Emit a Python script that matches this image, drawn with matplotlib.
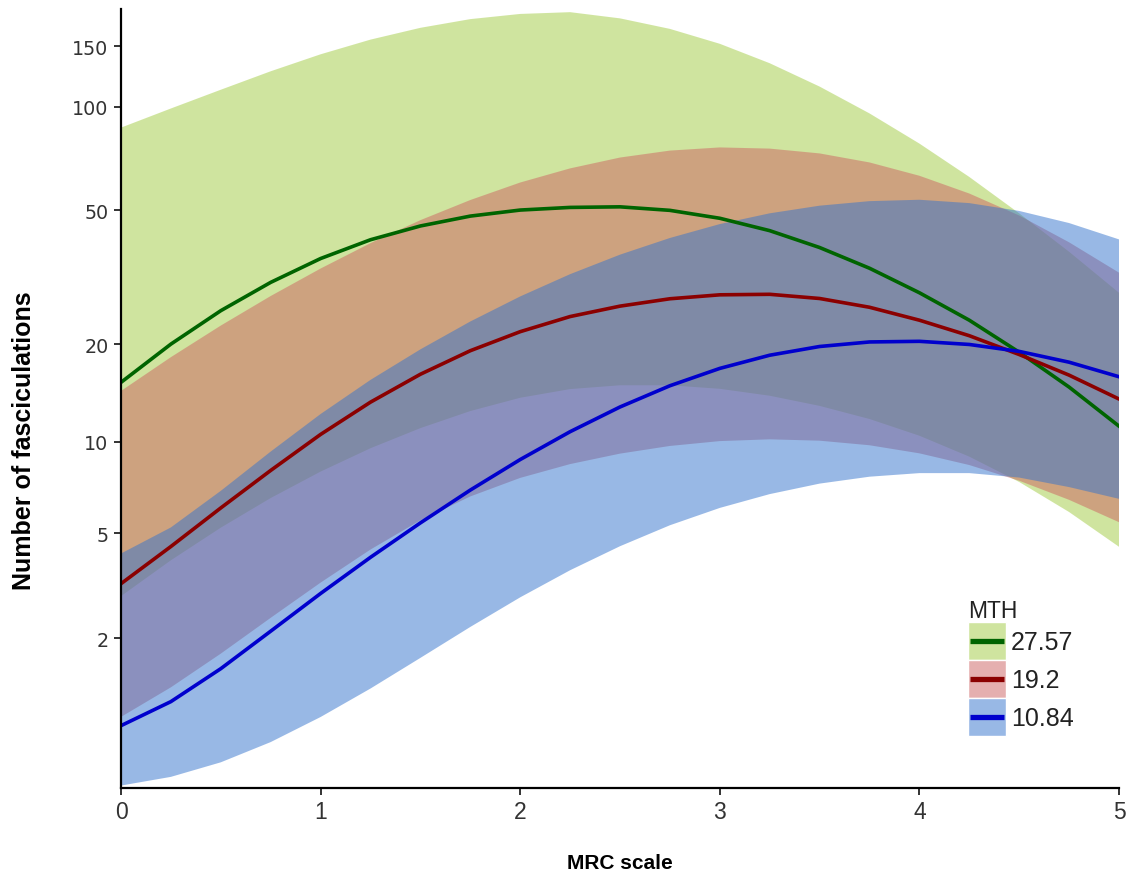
import numpy as np
import matplotlib
matplotlib.use("Agg")
import matplotlib.pyplot as plt
from matplotlib import font_manager
from matplotlib.colors import to_rgba
from matplotlib.legend_handler import HandlerBase
from matplotlib.lines import Line2D
from matplotlib.patches import Rectangle

# MRC scale grid
mrc = [0.0, 0.25, 0.5, 0.75, 1.0, 1.25, 1.5, 1.75, 2.0, 2.25, 2.5,
       2.75, 3.0, 3.25, 3.5, 3.75, 4.0, 4.25, 4.5, 4.75, 5.0]

# MTH = 27.57
fit_high = [15.3, 20.0, 25.2, 30.6, 36.0, 40.9, 44.9, 48.0, 50.0, 50.9, 51.1,
            49.9, 47.3, 43.5, 38.8, 33.7, 28.5, 23.6, 18.9, 14.8, 11.2]
upper_high = [87.0, 98.9, 112.1, 126.8, 142.0, 156.6, 169.4, 179.5, 185.8, 188.0, 180.4,
              168.2, 152.3, 133.8, 114.5, 95.7, 78.2, 62.5, 48.9, 37.7, 28.5]
lower_high = [2.96, 4.02, 5.23, 6.58, 8.03, 9.54, 11.04, 12.48, 13.72, 14.59, 14.99,
              14.99, 14.62, 13.92, 12.95, 11.79, 10.45, 8.97, 7.43, 5.91, 4.49]

# MTH = 19.2
fit_mid = [3.3, 4.5, 6.1, 8.1, 10.55, 13.3, 16.2, 19.1, 21.8, 24.2, 26.0,
           27.35, 28.1, 28.2, 27.4, 25.8, 23.6, 21.2, 18.6, 16.1, 13.6]
upper_mid = [14.4, 18.26, 22.74, 27.87, 33.63, 39.97, 46.7, 53.5, 60.2, 66.2, 71.2,
             74.6, 76.2, 75.6, 73.2, 68.9, 63.0, 55.9, 48.2, 40.2, 32.7]
lower_mid = [0.78, 1.165, 1.706, 2.43, 3.33, 4.39, 5.54, 6.66, 7.66, 8.49, 9.17,
             9.70, 10.05, 10.18, 10.08, 9.75, 9.19, 8.43, 7.50, 6.49, 5.46]

# MTH = 10.84
fit_low = [0.68, 0.97, 1.45, 2.14, 3.03, 4.12, 5.43, 6.99, 8.78, 10.76, 12.85,
           14.94, 16.88, 18.51, 19.67, 20.30, 20.39, 19.95, 19.01, 17.63, 15.92]
upper_low = [4.25, 5.24, 6.95, 9.31, 12.22, 15.57, 19.28, 23.39, 27.79, 32.36, 36.96,
             41.39, 45.48, 48.91, 51.5, 53.1, 53.6, 52.4, 49.7, 45.8, 41.0]
lower_low = [0.13, 0.197, 0.318, 0.507, 0.779, 1.148, 1.631, 2.229, 2.928, 3.70, 4.51,
             5.33, 6.10, 6.78, 7.34, 7.73, 7.94, 7.94, 7.68, 7.15, 6.54]

groups = ["27.57", "19.2", "10.84"]
y_ticks = [2, 5, 10, 20, 50, 100, 150]
x_ticks = [0, 1, 2, 3, 4, 5]

fills = ["#a1cb41", "#cd6161", "#3373cd"]
lines = ["#006400", "#8b0000", "#0000cd"]
fill_alpha = 0.5

names = {f.name for f in font_manager.fontManager.ttflist}
narrow = "Liberation Sans Narrow" if "Liberation Sans Narrow" in names else "Liberation Sans"
plt.rcParams["font.family"] = ["Liberation Sans", "DejaVu Sans"]


class RibbonKey:
    def __init__(self, fill, line):
        self.fill = fill
        self.line = line


class RibbonKeyHandler(HandlerBase):
    def create_artists(self, legend, orig_handle, xdescent, ydescent,
                       width, height, fontsize, trans):
        x0, y0 = -xdescent, -ydescent
        box = Rectangle((x0, y0), width, height,
                        facecolor=to_rgba(orig_handle.fill, fill_alpha),
                        edgecolor="white", linewidth=1.0, transform=trans)
        bar = Line2D([x0 + 0.06 * width, x0 + 0.94 * width],
                     [y0 + height / 2, y0 + height / 2],
                     color=orig_handle.line, linewidth=3.8,
                     solid_capstyle="butt", transform=trans)
        return [box, bar]


fig = plt.figure(figsize=(11.34, 8.79), dpi=100)
ax = fig.add_axes([121 / 1134, 1 - 789 / 879, 998 / 1134, 779 / 879])

ax.set_yscale("function", functions=(lambda v: np.log10(np.asarray(v) + 1.0),
                                     lambda v: 10.0 ** np.asarray(v) - 1.0))

series = [(fit_high, upper_high, lower_high),
          (fit_mid, upper_mid, lower_mid),
          (fit_low, upper_low, lower_low)]

for (fit, up, lo), fc in zip(series, fills):
    ax.fill_between(mrc, lo, up, facecolor=fc, alpha=fill_alpha, linewidth=0)
for (fit, up, lo), lc in zip(series, lines):
    ax.plot(mrc, fit, color=lc, linewidth=2.6, solid_joinstyle="round")

ax.set_xlim(0, 5)
ax.set_ylim(0.112, 192)
ax.set_xticks(x_ticks)
ax.set_xticklabels([str(t) for t in x_ticks], fontfamily=narrow, fontsize=16.5)
ax.set_yticks(y_ticks)
ax.set_yticklabels([str(t) for t in y_ticks], fontfamily="DejaVu Sans", fontsize=13.8)
ax.minorticks_off()

for side in ("top", "right"):
    ax.spines[side].set_visible(False)
for side in ("left", "bottom"):
    ax.spines[side].set_linewidth(1.6)
    ax.spines[side].set_color("black")
ax.tick_params(axis="both", direction="out", length=5, width=1.4,
               color="#333333", labelcolor="#333333", pad=4)

ax.set_xlabel("MRC scale", fontsize=15, fontweight="bold")
ax.xaxis.set_label_coords(0.5, -0.084)
ax.set_ylabel("Number of fasciculations", fontsize=18, fontweight="bold")
ax.yaxis.set_label_coords(-0.085, 0.447)

keys = [RibbonKey(fc, lc) for fc, lc in zip(fills, lines)]
leg = ax.legend(keys, groups, title="MTH", loc="upper left",
                handler_map={RibbonKey: RibbonKeyHandler()},
                bbox_to_anchor=(968 / 1134, 1 - 600 / 879), bbox_transform=fig.transFigure,
                frameon=False, fontsize=18, title_fontsize=16.5,
                handlelength=1.52, handleheight=1.965, labelspacing=0.0,
                handletextpad=0.2, borderpad=0, borderaxespad=0, alignment="left")
for t in leg.get_texts():
    t.set_color("#222222")
leg.get_title().set_color("#222222")

fig.savefig("out.png", dpi=100)
